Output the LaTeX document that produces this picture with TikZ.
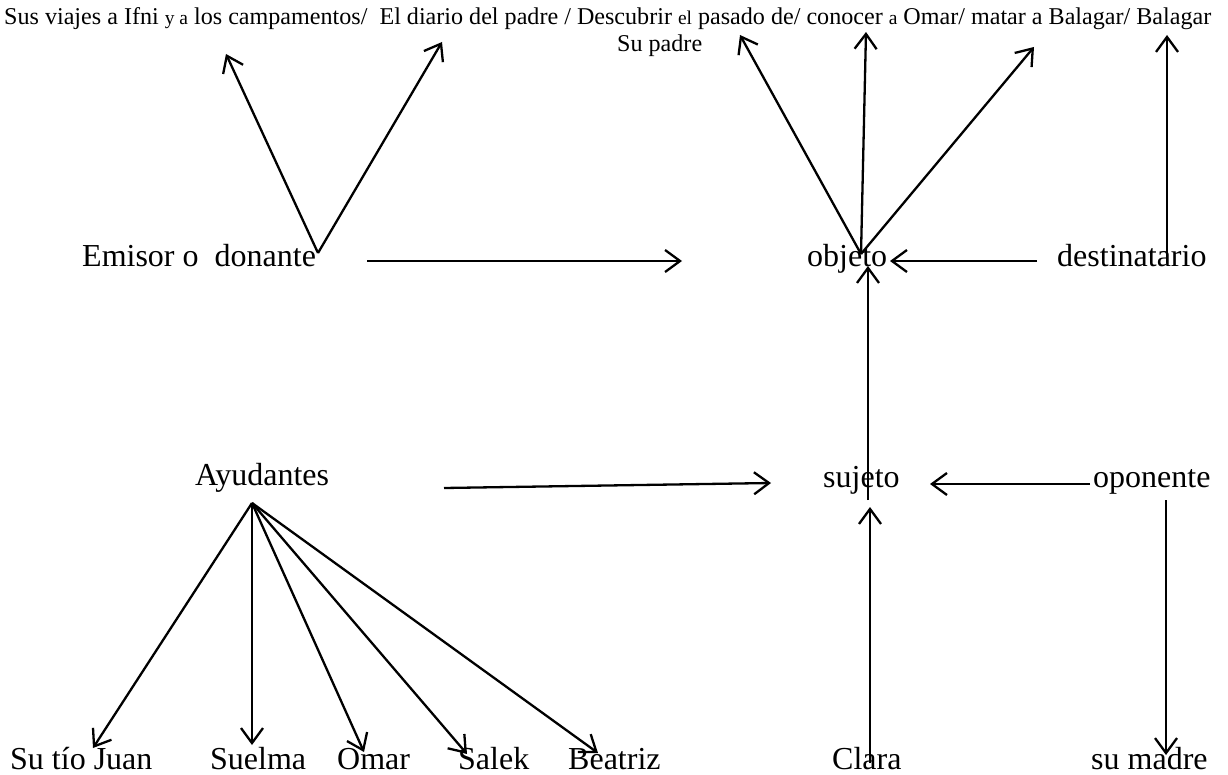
\documentclass[tikz,border=0pt]{standalone}
\usepackage{fontspec}
\setmainfont{Liberation Serif}
\usetikzlibrary{arrows.meta}
\begin{document}
\begin{tikzpicture}[x=1pt,y=-1pt,
  lbl/.style={inner sep=0pt,font=\fontsize{32}{36}\selectfont},
  plain/.style={line width=2.3pt},
  arr/.style={line width=2.3pt,-{Straight Barb[length=15pt,width=22pt,line width=2.3pt]}}]
\useasboundingbox (0,0) rectangle (1228,775);
% top texts
\node[inner sep=0pt,anchor=base west,font=\fontsize{24.1}{28}\selectfont] (top) at (4,25)
 {Sus viajes a Ifni {\fontsize{19.5}{22}\selectfont y a} los campamentos/\ \ El diario del padre / Descubrir {\fontsize{19.5}{22}\selectfont el} pasado de/ conocer {\fontsize{19.5}{22}\selectfont a} Omar/ matar a Balagar/ Balagar};
\node[inner sep=0pt,anchor=base west,font=\fontsize{24.1}{28}\selectfont] (padre) at (617,52) {Su padre};
% coordinates for arrow tips at top
\coordinate (t1) at (226,54);
\coordinate (t2) at (442,42);
\coordinate (t3) at (740,35);
\coordinate (t4) at (866,32);
\coordinate (t5) at (1034,47);
\coordinate (t6) at (1167,35);
% main labels
\node[lbl,anchor=base west] (emisor) at (82,267) {Emisor o\ \ donante};
\node[lbl,anchor=base west] (objeto) at (807,267) {objeto};
\node[lbl,anchor=base west] (dest) at (1057,267) {destinatario};
\node[lbl,anchor=base west] (ayud) at (195,485) {Ayudantes};
\node[lbl,anchor=base west] (sujeto) at (823,487) {sujeto};
\node[lbl,anchor=base west] (opon) at (1093,487) {oponente};
\node[lbl,anchor=base west] (tio) at (10,769) {Su tío Juan};
\node[lbl,anchor=base west] (suelma) at (210,769) {Suelma};
\node[lbl,anchor=base west] (omar) at (337,769) {Omar};
\node[lbl,anchor=base west] (salek) at (458,769) {Salek};
\node[lbl,anchor=base west] (beatriz) at (568,769) {Beatriz};
\node[lbl,anchor=base west] (clara) at (832,769) {Clara};
\node[lbl,anchor=base west] (madre) at (1091,769) {su madre};
% helper coordinates
\coordinate (eV) at (318,253);
\coordinate (oV) at (861,254);
\coordinate (aV) at (252,503);
% arrows
\draw[arr] (eV) -- (t1);
\draw[arr] (eV) -- (t2);
\draw[arr] (367,261) -- (682,261);
\draw[arr] (oV) -- (t3);
\draw[arr] (oV) -- (t4);
\draw[arr] (oV) -- (t5);
\draw[arr] (1037,261) -- (890,261);
\draw[plain] (1167,263) -- (1167,245);
\draw[arr] (1167,245) -- (t6);
\draw[arr] (868,500) -- (868,266);
\draw[arr] (444,488) -- (771,483);
\draw[arr] (1090,484) -- (930,484);
\draw[arr] (1166,500) -- (1166,755);
\draw[arr] (870,763) -- (870,507);
\draw[arr] (aV) -- (93,748);
\draw[arr] (aV) -- (252,745);
\draw[arr] (aV) -- (364,752);
\draw[arr] (aV) -- (467,754);
\draw[arr] (aV) -- (598,753);
\end{tikzpicture}
\end{document}
